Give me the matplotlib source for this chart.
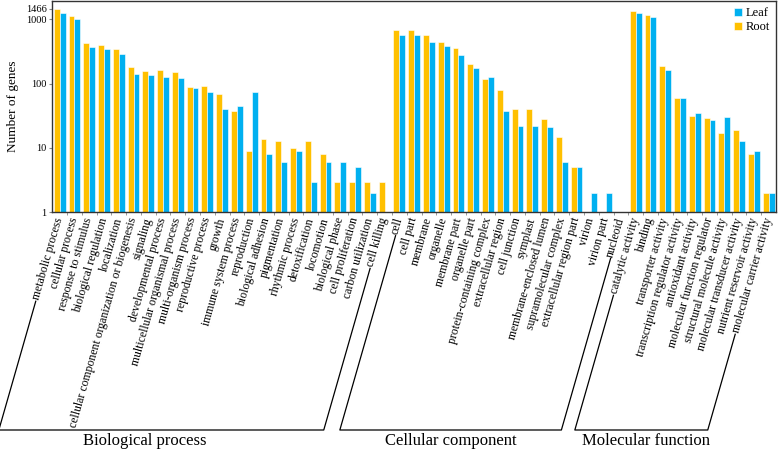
import numpy as np
import matplotlib
matplotlib.use("Agg")
import matplotlib.pyplot as plt
from matplotlib.lines import Line2D

plt.rcParams["font.family"] = ["Liberation Serif", "DejaVu Serif"]

bp_terms = ["metabolic process", "cellular process", "response to stimulus",
            "biological regulation", "localization",
            "cellular component organization or biogenesis", "signaling",
            "developmental process", "multicellular organismal process",
            "multi-organism process", "reproductive process", "growth",
            "immune system process", "reproduction", "biological adhesion",
            "pigmentation", "rhythmic process", "detoxification", "locomotion",
            "biological phase", "cell proliferation", "carbon utilization",
            "cell killing"]
bp_root = [1466, 1140, 430, 405, 350, 182, 158, 162, 150, 90, 92, 69, 38, 9,
           14, 13, 10, 13, 8, 3, 3, 3, 3]
bp_leaf = [1245, 1014, 372, 346, 290, 143, 135, 128, 121, 87, 73, 41, 45, 74,
           8, 6, 9, 3, 6, 6, 5, 2, 0]

cc_terms = ["cell", "cell part", "membrane", "organelle", "membrane part",
            "organelle part", "protein-containing complex",
            "extracellular region", "cell junction", "symplast",
            "membrane-enclosed lumen", "supramolecular complex",
            "extracellular region part", "virion", "virion part", "nucleoid"]
cc_root = [684, 684, 572, 445, 359, 202, 117, 80, 40, 40, 28, 15, 5, 0, 0, 0]
cc_leaf = [578, 578, 445, 382, 279, 175, 126, 38, 22, 22, 21, 6, 5, 2, 2, 0]

mf_terms = ["catalytic activity", "binding", "transporter activity",
            "transcription regulator activity", "antioxidant activity",
            "molecular function regulator", "structural molecule activity",
            "molecular transducer activity", "nutrient reservoir activity",
            "molecular carrier activity"]
mf_root = [1352, 1171, 190, 59, 31, 29, 17, 19, 8, 2]
mf_leaf = [1245, 1089, 163, 59, 35, 27, 30, 13, 9, 2]

groups = ["Biological process", "Cellular component", "Molecular function"]

terms = bp_terms + cc_terms + mf_terms
root = np.array(bp_root + cc_root + mf_root, dtype=float)
leaf = np.array(bp_leaf + cc_leaf + mf_leaf, dtype=float)
x = np.arange(len(terms))

ORANGE = "#FFC000"
BLUE = "#00B0F0"

fig = plt.figure(figsize=(7.78, 4.51), dpi=100)
ax = fig.add_axes([0.0672, 0.5293, 0.9302, 0.4685])

ax.set_yscale("log")
ax.bar(x - 0.2, root, width=0.4, color=ORANGE, edgecolor="white", linewidth=0.4, label="Root")
ax.bar(x + 0.2, leaf, width=0.4, color=BLUE, edgecolor="white", linewidth=0.4, label="Leaf")
ax.set_xlim(-0.5, len(terms) - 0.5)
ax.set_ylim(1, 1930)

ax.set_yticks([1, 10, 100, 1000, 1466])
ax.set_yticklabels(["1", "10", "100", "1000", "1466"], fontsize=7.5)
ax.yaxis.set_minor_locator(matplotlib.ticker.NullLocator())
ax.tick_params(axis="y", length=2, color="#888888", pad=2)
ax.set_ylabel("Number of genes", fontsize=9.5, labelpad=5)

ax.set_xticks(x)
ax.set_xticklabels(terms, rotation=74, ha="right", va="center",
                   rotation_mode="anchor", fontsize=8.5)
ax.set_xticks(x[:-1] + 0.5, minor=True)
ax.tick_params(axis="x", which="major", length=0, pad=4)
ax.tick_params(axis="x", which="minor", length=2.5, color="#888888")

for s in ax.spines.values():
    s.set_color("#333333")
    s.set_linewidth(1)

h, l = ax.get_legend_handles_labels()
ax.legend(h[::-1], l[::-1], loc="upper right", frameon=False, fontsize=9,
          handlelength=0.6, handleheight=0.6, handletextpad=0.3,
          labelspacing=0.15, borderaxespad=0.3, borderpad=0.2)

# group brackets drawn from the start of the first/last label of each group
fig.canvas.draw()
renderer = fig.canvas.get_renderer()
labels = ax.get_xticklabels()
theta = np.deg2rad(74)
c, s = np.cos(theta), np.sin(theta)
H = fig.bbox.height
W = fig.bbox.width
ybot = H - 430


def label_start(i):
    t = labels[i]
    bb = t.get_window_extent(renderer)
    w, hh, d = renderer.get_text_width_height_descent(t.get_text(), t.get_fontproperties(), ismath=False)
    xa = bb.x1 - hh / 2 * s
    ya = bb.y1 - hh / 2 * c
    return xa - w * c - 2 * c, ya - w * s - 2 * s


def foot(px, py):
    return px - (py - ybot) / np.tan(theta), ybot


sizes = [len(bp_terms), len(cc_terms), len(mf_terms)]
starts = np.cumsum([0] + sizes[:-1])
label_x = [145, 451, 646]
for g, st, n, lx in zip(groups, starts, sizes, label_x):
    p1 = label_start(st)
    p2 = label_start(st + n - 1)
    f1 = foot(*p1)
    f2 = foot(*p2)
    xs = [p1[0], f1[0], f2[0], p2[0]]
    ys = [p1[1], f1[1], f2[1], p2[1]]
    fig.add_artist(Line2D(np.array(xs) / W, np.array(ys) / H, color="black", lw=0.9))
    fig.text(lx / W, 1 - 441 / H, g, ha="center", va="center", fontsize=12)

fig.savefig("out.png", dpi=100)
